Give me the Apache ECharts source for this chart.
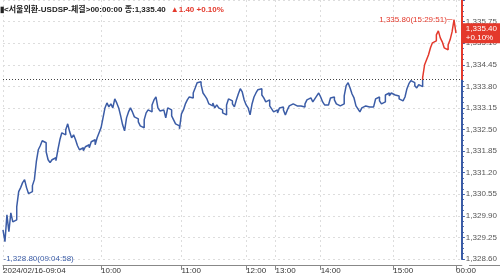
<!DOCTYPE html>
<html><head><meta charset="utf-8">
<script src="https://cdn.jsdelivr.net/npm/echarts@6/dist/echarts.min.js"></script>
<style>html,body{margin:0;padding:0;background:#fff}#c{width:500px;height:276px}</style>
</head><body><div id="c"></div>
<script>
const prices = [
1329.48,1329.12,1329.93,1329.42,1329.99,1329.72,1329.78,1330.17,1330.63,1330.75,
1330.90,1330.99,1330.75,1330.57,1330.63,1330.81,1330.99,1331.53,1331.89,1332.01,
1332.16,1332.10,1331.83,1331.59,1331.50,1331.59,1331.65,1331.56,1331.89,1332.19,
1332.40,1332.34,1332.49,1332.67,1332.43,1332.25,1332.34,1332.19,1332.01,1331.89,
1331.95,1331.86,1331.98,1332.04,1331.95,1332.13,1332.19,1332.04,1332.25,1332.40,
1332.55,1332.85,1333.15,1333.30,1333.18,1333.27,1333.15,1333.42,1333.30,1333.15,
1332.91,1332.64,1332.46,1332.85,1333.03,1333.15,1333.03,1332.88,1332.82,1332.73,
1332.61,1332.55,1332.79,1333.00,1333.09,1333.03,1333.24,1333.39,1333.48,1333.15,
1333.06,1333.09,1333.03,1332.85,1333.15,1333.09,1332.91,1332.79,1332.67,1332.61,
1332.52,1332.97,1333.09,1333.27,1333.39,1333.48,1333.45,1333.60,1333.75,1333.91,
1333.94,1333.85,1333.60,1333.51,1333.42,1333.27,1333.21,1333.30,1333.15,1333.24,
1333.15,1333.09,1333.00,1332.94,1333.24,1333.42,1333.36,1333.27,1333.18,1333.39,
1333.57,1333.73,1333.63,1333.39,1333.24,1333.15,1332.94,1333.27,1333.48,1333.60,
1333.70,1333.73,1333.54,1333.45,1333.33,1333.39,1333.21,1333.12,1333.03,1333.09,
1333.00,1333.15,1333.18,1333.09,1332.94,1333.09,1333.21,1333.27,1333.30,1333.21,
1333.18,1333.21,1333.15,1333.18,1333.27,1333.39,1333.45,1333.39,1333.33,1333.42,
1333.51,1333.60,1333.48,1333.33,1333.24,1333.24,1333.27,1333.45,1333.48,1333.39,
1333.27,1333.21,1333.18,1333.27,1333.51,1333.82,1333.91,1333.75,1333.57,1333.45,
1333.21,1333.12,1333.03,1333.15,1333.21,1333.24,1333.18,1333.15,1333.18,1333.21,
1333.42,1333.48,1333.36,1333.27,1333.33,1333.54,1333.60,1333.51,1333.60,1333.54,
1333.57,1333.51,1333.42,1333.36,1333.33,1333.48,1333.73,1333.88,1333.97,1333.91,
1333.82,1333.75,1333.85,1333.79,1334.06,1334.45,1334.60,1334.75,1334.96,1335.11,
1335.17,1335.35,1335.47,1335.26,1335.14,1334.96,1334.90,1335.05,1335.20,1335.44,
1335.80,1335.40
];
const tickIdx = [0, 50, 91, 124, 139, 162, 199, 231];
const tickLabels = ['2024/02/16-09:04', '10:00', '11:00', '12:00', '13:00', '14:00', '15:00', '00:00'];
const slotCount = 235;
const prevClose = 1334.00;
const lastPrice = 1335.40;
const changePct = '+0.10%';
const maxText = '1,335.80(15:29:51)';
const minText = '1,328.80(09:04:58)';
const yMin = 1328.60, yMax = 1336.40, yStep = 0.65;
const titleMain = '▮<서울외환-USDSP-체결>00:00:00 종:1,335.40';
const titleChange = '▲1.40 +0.10%';

const BLUE = '#3b5ca6', RED = '#e4392c';
const FONT = '"Liberation Sans Narrow", "Liberation Sans", "Noto Sans CJK KR", sans-serif';
const categories = [];
for (let i = 0; i < slotCount; i++) categories.push(String(i));
const fmt = v => Number(v).toLocaleString('en-US', {minimumFractionDigits: 2, maximumFractionDigits: 2});
const isTick = i => tickIdx.indexOf(i) >= 0;
let maxIdx = 0;
prices.forEach((p, i) => { if (p > prices[maxIdx]) maxIdx = i; });

const chart = echarts.init(document.getElementById('c'), null, {renderer: 'canvas'});
chart.setOption({
  animation: false,
  backgroundColor: '#fff',
  title: {
    text: '{a|' + titleMain + '} {b|' + titleChange + '}',
    left: 0, top: 0, padding: [1, 0, 0, 0],
    textStyle: {
      rich: {
        a: {fontSize: 8, color: '#222', fontFamily: FONT},
        b: {fontSize: 8, color: RED, fontFamily: FONT}
      }
    }
  },
  grid: {left: 0, right: 31, top: 0, bottom: 17},
  xAxis: {
    type: 'category', data: categories, boundaryGap: false, offset: 6,
    axisLine: {lineStyle: {color: '#888'}},
    axisTick: {show: true, interval: (i) => isTick(i), length: 5, lineStyle: {color: '#888'}},
    axisLabel: {
      interval: (i) => isTick(i), align: 'left', margin: 2,
      fontSize: 8, color: '#333', fontFamily: FONT,
      formatter: (v, i) => { const k = tickIdx.indexOf(Number(v)); return k >= 0 ? tickLabels[k] : ''; }
    },
    splitLine: {show: true, interval: (i) => isTick(i), lineStyle: {color: '#ddd', type: [2, 3]}}
  },
  yAxis: {
    type: 'value', position: 'right', min: yMin, max: yMax, interval: yStep,
    axisLine: {show: true, lineStyle: {color: BLUE, width: 2}},
    axisTick: {show: true, length: 3, lineStyle: {color: BLUE}},
    minorTick: {show: true, splitNumber: 4, length: 2, lineStyle: {color: BLUE}},
    axisLabel: {showMaxLabel: false, margin: 4, fontSize: 8, color: '#555', fontFamily: FONT, formatter: fmt},
    splitLine: {show: true, lineStyle: {color: '#ddd', type: [2, 3]}}
  },
  graphic: [{type: 'line', shape: {x1: 469, y1: 265.5, x2: 500, y2: 265.5}, style: {stroke: '#888', lineWidth: 1}}],
  series: [{
    type: 'line', data: prices, showSymbol: false, step: 'end',
    lineStyle: {width: 1.5, color: BLUE}, itemStyle: {color: BLUE}, silent: true,
    markLine: {
      silent: true, symbol: ['none', 'none'],
      data: [
        {yAxis: prevClose, lineStyle: {color: '#444', type: [1, 2], width: 1}, label: {show: false}},
        {yAxis: lastPrice, lineStyle: {color: 'rgba(0,0,0,0)', width: 0}, label: {
          show: true, position: 'end', distance: 1, formatter: fmt(lastPrice) + '\n' + changePct,
          backgroundColor: RED, color: '#fff', fontSize: 8, lineHeight: 9, padding: [1, 3, 1, 3], fontFamily: FONT
        }},
        [{coord: [slotCount - 1, prevClose], lineStyle: {color: RED, width: 2, type: 'solid'}, label: {show: false}},
         {coord: [slotCount - 1, yMax]}]
      ]
    },
    markPoint: {
      silent: true,
      data: [
        {coord: [maxIdx, prices[maxIdx]], symbol: 'circle', symbolSize: 1, itemStyle: {color: RED},
          label: {show: true, position: 'left', distance: 1, formatter: maxText + '─', color: RED, fontSize: 8, fontFamily: FONT}},
        {coord: [0, yMin], symbol: 'circle', symbolSize: 1, itemStyle: {color: 'rgba(0,0,0,0)'},
          label: {show: true, position: 'right', distance: 0, formatter: '-' + minText, color: BLUE, fontSize: 8, fontFamily: FONT}}
      ]
    }
  }]
});
// colour the line red above the previous close and blue below, using the axis scale
const splitY = chart.convertToPixel({yAxisIndex: 0}, prevClose);
const topY = chart.convertToPixel({yAxisIndex: 0}, yMax);
const botY = chart.convertToPixel({yAxisIndex: 0}, yMin);
const off = (splitY - topY) / (botY - topY);
chart.setOption({series: [{
  lineStyle: {color: {type: 'linear', x: 0, y: topY, x2: 0, y2: botY, global: true, colorStops: [
    {offset: 0, color: RED}, {offset: off, color: RED}, {offset: off, color: BLUE}, {offset: 1, color: BLUE}
  ]}}
}]});
</script></body></html>
